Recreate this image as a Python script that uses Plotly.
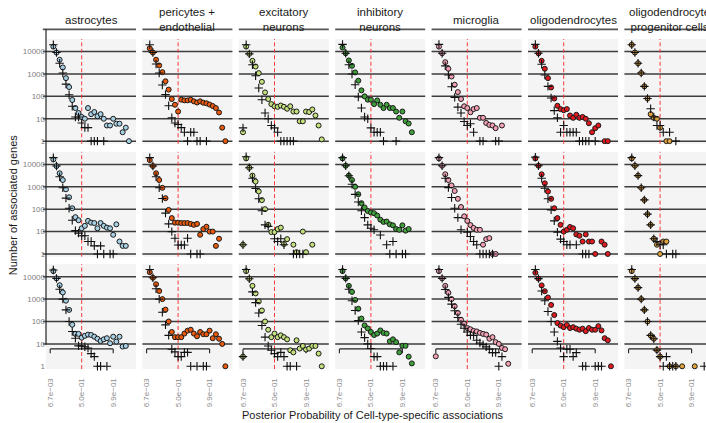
import plotly.graph_objects as go

# ---------------- data ----------------
cell_types = ["astrocytes", "pericytes +<br>endothelial", "excitatory<br>neurons",
              "inhibitory<br>neurons", "microglia", "oligodendrocytes",
              "oligodendrocyte<br>progenitor cells"]
cell_colors = ["#a7d0e4", "#e8590c", "#c3e07d", "#3f9f3a", "#f4a0b4", "#e0191f", "#e0a33c"]

x_tick_bins = [0, 10, 20]
x_tick_labels = ["6.7e\u221203", "5.0e\u221201", "9.9e\u221201"]
y_tick_vals = [1, 10, 100, 1000, 10000]
y_tick_labels = ["1", "10", "100", "1000", "10000"]
threshold_bin = 10
bracket_bins = [0, 20]
bracket_levels = [6.0, 3.8]

# row 1 (bin index -> number of associated genes)
astro_r1_pts = {1:16600, 2:9000, 3:4300, 4:1950, 5:650, 6:260, 7:69, 8:30, 9:18, 10:12, 11:10, 12:30, 13:16, 14:20, 15:13, 16:16, 17:10, 18:5, 19:5, 20:10, 21:6, 22:6, 23:2.5, 24:4, 25:1}
astro_r1_plus = {1:20000, 2:9000, 3:3000, 4:1100, 5:350, 6:117, 7:36, 8:12, 9:12, 10:6.5, 11:4, 12:4, 13:1, 14:1, 15:1, 17:1}
peri_r1_pts = {1:14000, 2:9000, 3:4300, 4:2400, 5:1200, 6:470, 7:200, 8:76, 9:42, 10:21, 11:71, 12:66, 13:66, 14:71, 15:60, 16:53, 17:60, 18:52, 19:49, 20:43, 21:37, 22:30, 23:19, 24:4, 25:1}
peri_r1_plus = {1:20000, 2:9000, 3:2800, 4:1100, 5:320, 6:120, 7:38, 8:11, 9:6.5, 10:5.5, 11:4, 12:2.5, 13:1, 14:2.5, 15:2.5, 16:1, 17:1, 19:1}
exc_r1_pts = {0:2.5, 1:16600, 2:7900, 3:3850, 4:2150, 5:1090, 6:445, 7:150, 8:76, 9:45, 10:36, 11:34, 12:39, 13:34, 14:28, 15:36, 16:21, 17:21, 18:7.7, 19:7.7, 20:21, 21:20, 22:26, 23:14, 24:5, 25:1.2}
exc_r1_plus = {0:3.9, 1:20000, 2:7900, 3:2560, 4:830, 5:235, 6:71, 7:18, 8:10, 9:5, 10:3.9, 11:2.5, 12:1, 13:1, 14:1, 15:1, 16:1}
inh_r1_pts = {1:15000, 2:8400, 3:4000, 4:2300, 5:1170, 6:500, 7:185, 8:100, 9:71, 10:71, 11:45, 12:66, 13:42, 14:30, 15:42, 16:30, 17:30, 18:21, 19:11, 20:21, 21:7.7, 22:6.1, 23:2.5}
inh_r1_plus = {1:21000, 2:8400, 3:2560, 4:1000, 5:330, 6:93, 7:30, 8:12, 9:10, 10:3.9, 11:2.5, 12:2.5, 13:2.5, 14:1, 18:1}
micro_r1_pts = {1:16600, 2:8400, 3:3350, 4:1700, 5:770, 6:330, 7:155, 8:76, 9:36, 10:30, 11:19.5, 12:27, 13:30, 14:11, 15:11, 16:6.5, 17:5.3, 18:5, 19:3.8, 21:5}
micro_r1_plus = {1:21000, 2:8400, 3:2300, 4:900, 5:270, 6:90, 7:33, 8:18, 9:7.5, 10:5, 11:6, 12:2.5, 14:1, 15:1, 19:1, 20:1}
oligo_r1_pts = {1:16600, 2:8400, 3:3850, 4:1700, 5:650, 6:250, 7:80, 8:38, 9:27, 10:24, 11:27, 12:14, 13:11, 14:15, 15:11, 16:12, 17:10, 18:6.3, 19:2.5, 20:3.8, 21:5, 23:1, 24:1}
oligo_r1_plus = {1:21000, 2:8400, 3:2700, 4:900, 5:280, 6:85, 7:23, 8:11, 9:2.5, 10:5, 11:2.5, 12:2.5, 13:2.5, 14:2.5, 15:1, 16:1, 17:1, 18:1, 20:1}
opc_r1_pts = {1:20000, 2:9000, 3:3000, 4:1100, 5:280, 6:80, 7:16, 8:11, 9:10, 10:4, 12:1, 13:1}
opc_r1_plus = {1:20000, 2:9000, 3:3000, 4:1100, 5:280, 6:80, 7:28, 8:12, 9:5, 10:5, 11:2.5, 13:2.5, 15:1}

# row 2
astro_r2_pts = {1:16600, 2:8400, 3:4000, 4:2000, 5:770, 6:340, 7:110, 8:44, 9:32, 10:14, 11:18, 12:30, 13:25, 14:24, 15:14, 16:24, 17:18, 18:15, 19:14, 20:7.2, 21:21, 22:3.6, 23:2.3, 24:2.3}
astro_r2_plus = {1:20000, 2:8400, 3:2800, 4:900, 5:310, 6:110, 7:32, 8:11, 9:8.5, 10:6.5, 11:6.5, 12:3.6, 13:3.6, 14:2.3, 15:1, 16:2.3, 17:1, 19:1, 20:1}
peri_r2_pts = {1:15500, 2:8400, 3:4000, 4:2000, 5:900, 6:310, 7:93, 8:40, 9:25, 10:25, 11:24, 12:24, 13:24, 14:22, 15:20, 16:22, 17:7.2, 18:13, 19:16.5, 20:10, 21:10, 22:2.3, 23:4.8}
peri_r2_plus = {1:20000, 2:8400, 3:2800, 4:900, 5:300, 6:67, 7:22, 8:10, 9:5, 10:2.5, 11:2.5, 12:2.5, 13:5, 14:1, 16:1, 17:1}
exc_r2_pts = {0:2.6, 1:18500, 2:7100, 3:3150, 4:1700, 5:620, 6:255, 7:100, 8:20, 9:9.5, 10:9.5, 11:13, 12:15, 13:2.8, 14:4.6, 16:2.6, 17:1.2, 19:10, 20:1.2, 22:2.6}
exc_r2_plus = {0:2.6, 1:22000, 2:7100, 3:2400, 4:850, 5:290, 6:85, 7:20, 8:17, 10:4.8, 11:3.6, 12:4.8, 13:2.6, 16:1, 17:1, 18:1, 19:1}
inh_r2_pts = {1:18500, 2:8700, 3:3150, 4:2000, 5:1000, 6:465, 7:185, 8:120, 9:83, 10:71, 11:66, 12:52, 13:34, 14:27, 15:28, 16:21, 17:19, 18:13, 19:12, 20:19, 21:11, 22:13}
inh_r2_plus = {1:20000, 2:8700, 3:3100, 4:1300, 5:460, 6:210, 7:85, 8:42, 9:20, 10:14, 11:12, 13:7, 15:2.6, 16:1, 17:3.6, 18:1, 20:1, 21:1}
micro_r2_pts = {1:18500, 2:8700, 3:3600, 4:2000, 5:1150, 6:650, 7:290, 8:125, 9:48, 10:30, 11:19.5, 12:14.5, 13:12, 14:12, 15:2.6, 16:4.6, 17:5.1, 18:1, 19:1}
micro_r2_plus = {1:20000, 2:8700, 3:2400, 4:920, 5:330, 6:110, 7:42, 8:12, 10:9.5, 11:6, 12:3.6, 13:2.6, 14:1, 15:1, 16:1, 17:1, 18:1}
oligo_r2_pts = {1:18500, 2:8700, 3:3600, 4:1430, 5:610, 6:290, 7:110, 8:40, 9:20, 10:10, 11:12, 12:16, 13:14, 14:7.5, 15:6.5, 16:3.6, 17:7.5, 18:3.6, 19:3.6, 20:1, 22:3.6, 23:2.6, 24:1}
oligo_r2_plus = {1:21000, 2:8700, 3:2400, 4:860, 5:290, 6:93, 7:30, 8:9.5, 9:4.6, 10:3.6, 11:2.6, 12:2.6, 14:2.6, 16:1, 17:1, 18:1}
opc_r2_pts = {1:18500, 2:8700, 3:3150, 4:900, 5:260, 6:60, 7:20, 8:4.8, 9:2.6, 10:1, 11:3.6, 12:3.6}
opc_r2_plus = {1:20000, 2:8700, 3:3150, 4:900, 5:260, 6:60, 7:20, 8:4.8, 9:3.6, 10:2.6, 11:2.6, 12:1, 14:1, 15:1}

# row 3
astro_r3_pts = {1:17800, 2:8450, 3:4160, 4:1980, 5:850, 6:330, 7:72, 8:28, 9:28, 10:19, 11:23, 12:26, 13:25, 14:21, 15:17, 16:13.5, 17:16, 18:18, 19:10.7, 20:21, 21:12.6, 22:21, 23:7.6, 24:8.1}
astro_r3_plus = {1:20000, 2:8450, 3:2770, 4:1000, 5:330, 6:100, 7:36, 8:18, 9:8.2, 10:8.2, 11:7.5, 12:6.5, 13:3.7, 14:2.7, 15:1, 16:1, 18:1}
peri_r3_pts = {1:16000, 2:9000, 3:4600, 4:2300, 5:1000, 6:340, 7:100, 8:34, 9:20, 10:20, 11:20, 12:29, 13:39, 14:43, 15:29, 16:22, 17:34, 18:27, 19:27, 20:39, 21:18, 22:27, 23:17, 24:10, 25:1}
peri_r3_plus = {1:21000, 2:9000, 3:2900, 4:1000, 5:260, 6:71, 7:24, 8:5.8, 9:4.4, 10:2.7, 11:2.7, 12:4.2, 13:4.2, 14:1, 16:1, 18:1, 19:1}
exc_r3_pts = {0:2.7, 1:17800, 2:8100, 3:3900, 4:1800, 5:790, 6:310, 7:100, 8:43, 9:20, 10:29, 11:20, 12:24, 13:20, 14:16, 15:5.2, 16:4.2, 17:14.5, 18:6.2, 19:8.1, 20:5.6, 21:6.2, 22:8.1, 23:8.1, 24:3.7, 25:1}
exc_r3_plus = {0:2.7, 1:21000, 2:8100, 3:2100, 4:700, 5:240, 6:66, 7:20, 8:8.1, 9:5.2, 10:3.7, 11:2.7, 12:4.2, 13:2.7, 14:1, 15:1, 17:1}
inh_r3_pts = {1:17800, 2:8450, 3:3900, 4:2100, 5:920, 6:370, 7:135, 8:67, 9:49, 10:34, 11:25, 12:29, 13:40, 14:31, 15:29, 16:13, 17:16, 18:12, 19:4.2, 20:8.2, 21:8.2, 22:2.7, 23:1.35}
inh_r3_plus = {1:21000, 2:8450, 3:2770, 4:850, 5:310, 6:110, 7:34, 8:19, 9:10, 10:6.2, 11:2.7, 12:2.7, 13:1, 14:1, 15:1, 17:1}
micro_r3_pts = {0:2.8, 1:17800, 2:8450, 3:3900, 4:1900, 5:1000, 6:480, 7:240, 8:120, 9:80, 10:51, 11:45, 12:38, 13:36, 14:31, 15:28, 16:26, 17:17, 18:20, 19:12, 20:10, 21:6.6, 22:5.8, 23:1.3}
micro_r3_plus = {1:21000, 2:8450, 3:2700, 4:1200, 5:600, 6:300, 7:150, 8:75, 9:50, 10:34, 11:24, 12:24, 13:14.5, 14:11, 15:9.3, 16:7.4, 17:5.8, 18:4.1, 19:4.1, 20:1, 21:2.7}
oligo_r3_pts = {1:15000, 2:8200, 3:4100, 4:2250, 5:1180, 6:550, 7:195, 8:85, 9:66, 10:56, 11:70, 12:51, 13:56, 14:48, 15:43, 16:48, 17:37, 18:51, 19:43, 20:43, 21:62, 22:40, 23:18, 24:14.5, 25:1}
oligo_r3_plus = {1:21000, 2:8200, 3:2300, 4:850, 5:280, 6:100, 7:34, 8:13, 9:6.6, 10:2.7, 11:5.8, 12:5.8, 13:2.7, 14:4.1, 16:1, 17:1, 20:1, 21:1, 22:1}
opc_r3_pts = {1:17800, 2:8200, 3:3250, 4:1000, 5:330, 6:100, 7:24, 8:17, 9:5.3, 10:2.7, 13:1, 15:1, 17:1, 21:1}
opc_r3_plus = {1:21000, 2:8200, 3:3250, 4:1000, 5:330, 6:100, 7:24, 8:17, 9:5.3, 10:2.7, 11:1, 12:2.7, 13:1, 14:1, 15:1, 24:1}

panel_pts = [
    [astro_r1_pts, peri_r1_pts, exc_r1_pts, inh_r1_pts, micro_r1_pts, oligo_r1_pts, opc_r1_pts],
    [astro_r2_pts, peri_r2_pts, exc_r2_pts, inh_r2_pts, micro_r2_pts, oligo_r2_pts, opc_r2_pts],
    [astro_r3_pts, peri_r3_pts, exc_r3_pts, inh_r3_pts, micro_r3_pts, oligo_r3_pts, opc_r3_pts],
]
panel_plus = [
    [astro_r1_plus, peri_r1_plus, exc_r1_plus, inh_r1_plus, micro_r1_plus, oligo_r1_plus, opc_r1_plus],
    [astro_r2_plus, peri_r2_plus, exc_r2_plus, inh_r2_plus, micro_r2_plus, oligo_r2_plus, opc_r2_plus],
    [astro_r3_plus, peri_r3_plus, exc_r3_plus, inh_r3_plus, micro_r3_plus, oligo_r3_plus, opc_r3_plus],
]

# ---------------- layout geometry (pixels) ----------------
W, H = 706, 423
ML, MR, MT, MB = 46, 0, 39, 53.5
PW = W - ML - MR
PH = H - MT - MB
COL0, COLSTEP, PANEL_W = 46, 96.4, 90
ROW_TOPS = [39, 152, 264.5]
PANEL_H = 105
PX_PER_BIN = 3.15
X_LO = -1.333
Y_RANGE = [-0.12, 4.56]
FONT = "Liberation Sans, Arial, sans-serif"
GRID_COLOR = "#3d3d3d"


def xf(px):
    return (px - ML) / PW


def yf(py):
    return (H - MB - py) / PH


fig = go.Figure()
axes = {}
shapes = []
annotations = []

for r in range(3):
    for c in range(7):
        n = r * 7 + c + 1
        sfx = "" if n == 1 else str(n)
        xa, ya = "x" + sfx, "y" + sfx
        left = COL0 + c * COLSTEP
        right = min(left + PANEL_W, W)
        top = ROW_TOPS[r]
        bottom = top + PANEL_H
        bottom_row = (r == 2)
        axes["xaxis" + sfx] = dict(
            domain=[xf(left), xf(right)], anchor=ya,
            range=[X_LO, X_LO + (right - left) / PX_PER_BIN],
            showgrid=False, zeroline=False, showline=False,
            tickmode="array", tickvals=x_tick_bins, ticktext=x_tick_labels,
            showticklabels=bottom_row, tickangle=-90,
            ticks="outside" if bottom_row else "", ticklen=5,
            tickcolor="rgba(0,0,0,0)",
            tickfont=dict(size=8, color="#8c8c8c", family=FONT),
            fixedrange=True,
        )
        axes["yaxis" + sfx] = dict(
            domain=[yf(bottom), yf(top)], anchor=xa, type="log", range=Y_RANGE,
            showgrid=False, zeroline=False, showline=False,
            tickmode="array", tickvals=y_tick_vals, ticktext=y_tick_labels,
            showticklabels=(c == 0), ticks="",
            tickfont=dict(size=8, color="#808080", family=FONT),
            fixedrange=True,
        )

        # horizontal reference lines
        grid_vals = y_tick_vals if r < 2 else y_tick_vals[1:]
        for v in grid_vals:
            shapes.append(dict(type="line", xref=xa + " domain", yref=ya,
                               x0=-0.035 if c == 0 else 0, x1=1, y0=v, y1=v,
                               line=dict(color=GRID_COLOR, width=1.5), layer="below"))
        # dashed threshold
        shapes.append(dict(type="line", xref=xa, yref=ya + " domain",
                           x0=threshold_bin, x1=threshold_bin, y0=0, y1=1,
                           line=dict(color="#ff3838", width=1, dash="4px,2.5px"),
                           layer="below"))
        # bracket on the bottom row
        if bottom_row:
            b0, b1 = bracket_bins
            hi, lo = bracket_levels
            for (x0, y0, x1, y1) in [(b0, hi, b1, hi), (b0, hi, b0, lo), (b1, hi, b1, lo)]:
                shapes.append(dict(type="line", xref=xa, yref=ya, x0=x0, x1=x1, y0=y0, y1=y1,
                                   line=dict(color="#222222", width=1.1), layer="below"))

        pts = panel_pts[r][c]
        plus = panel_plus[r][c]
        fig.add_trace(go.Scatter(
            x=list(pts.keys()), y=list(pts.values()), mode="markers",
            xaxis=xa, yaxis=ya, showlegend=False, cliponaxis=False, hoverinfo="skip",
            marker=dict(symbol="circle", size=5, color=cell_colors[c],
                        line=dict(color="#1a1a1a", width=1)),
        ))
        fig.add_trace(go.Scatter(
            x=list(plus.keys()), y=list(plus.values()), mode="markers",
            xaxis=xa, yaxis=ya, showlegend=False, cliponaxis=False, hoverinfo="skip",
            marker=dict(symbol="cross-thin", size=6, color="#111111",
                        line=dict(color="#111111", width=1.1)),
        ))

for c in range(7):
    sfx = "" if c == 0 else str(c + 1)
    left = COL0 + c * COLSTEP
    shapes.append(dict(type="line", xref="x" + sfx + " domain", yref="paper",
                       x0=-0.035 if c == 0 else 0, x1=1, y0=yf(29.3), y1=yf(29.3),
                       line=dict(color="#555555", width=1.8)))
    annotations.append(dict(text=cell_types[c], x=xf(left + PANEL_W / 2), y=yf(19.5),
                            xref="paper", yref="paper", showarrow=False,
                            xanchor="center", yanchor="middle",
                            font=dict(size=11.5, color="#1a1a1a", family=FONT)))

# left axis line
shapes.append(dict(type="line", xref="paper", yref="paper", x0=0, x1=0,
                   y0=yf(345.3), y1=yf(29.3), line=dict(color="#222222", width=1.2)))

annotations.append(dict(text="Posterior Probability of Cell-type-specific associations",
                        x=xf(373), y=yf(415.5), xref="paper", yref="paper",
                        showarrow=False, xanchor="center", yanchor="middle",
                        font=dict(size=11, color="#1a1a1a", family=FONT)))
annotations.append(dict(text="Number of associated genes", textangle=-90,
                        x=xf(12.5), y=yf(205), xref="paper", yref="paper",
                        showarrow=False, xanchor="center", yanchor="middle",
                        font=dict(size=11, color="#1a1a1a", family=FONT)))

fig.update_layout(
    width=W, height=H,
    margin=dict(l=ML, r=MR, t=MT, b=MB, pad=0),
    plot_bgcolor="#f4f4f4", paper_bgcolor="#ffffff",
    font=dict(family=FONT, color="#1a1a1a"),
    shapes=shapes, annotations=annotations,
    showlegend=False,
    **axes,
)

fig.write_html("out.html",
               config={"displayModeBar": False, "staticPlot": True},
               post_script="document.body.style.margin='0px';document.body.style.overflow='hidden';")
